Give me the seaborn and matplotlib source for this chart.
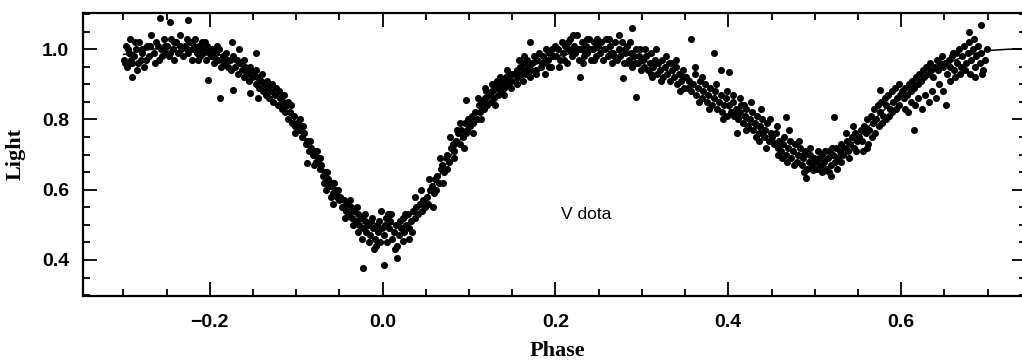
import matplotlib
matplotlib.use("Agg")
import matplotlib.pyplot as plt
from matplotlib.ticker import MultipleLocator
import seaborn as sns
import pandas as pd

# ---- fitted light curve ----
model_phase = [-0.300, -0.275, -0.250, -0.225, -0.200, -0.175, -0.150, -0.125,
               -0.100, -0.075, -0.050, -0.025, 0.000, 0.025, 0.050, 0.075, 0.100, 0.125,
               0.150, 0.175, 0.200, 0.225, 0.250, 0.275, 0.300, 0.325, 0.350, 0.375,
               0.400, 0.425, 0.450, 0.475, 0.500, 0.525, 0.550, 0.575, 0.600, 0.625,
               0.650, 0.675, 0.700, 0.725, 0.745]
model_light = [0.985, 0.997, 1.005, 1.005, 0.995, 0.970, 0.930, 0.875,
               0.790, 0.685, 0.585, 0.515, 0.495, 0.510, 0.575, 0.680, 0.785, 0.865,
               0.920, 0.955, 0.978, 0.992, 0.997, 0.990, 0.972, 0.945, 0.912, 0.873,
               0.832, 0.790, 0.745, 0.708, 0.686, 0.695, 0.745, 0.815, 0.872, 0.918,
               0.955, 0.982, 0.996, 1.000, 1.000]

# ---- observed V data, (phase, light) pairs by phase segment ----
seg_a = [(-0.299,0.97),(-0.297,1.01),(-0.296,0.95),(-0.294,0.99),(-0.292,1.03),(-0.290,0.96),(-0.288,0.98),(-0.286,1.00),(-0.284,0.94),(-0.282,1.02),(-0.280,0.97),(-0.278,0.99),(-0.276,0.95),(-0.273,1.01),(-0.270,0.98),(-0.268,1.04),(-0.265,0.99),(-0.262,1.02),(-0.259,0.97),(-0.256,1.00),(-0.253,1.03),(-0.251,0.99),(-0.298,0.96),(-0.295,1.00),(-0.291,0.97),(-0.287,1.02),(-0.283,0.96),(-0.279,1.00),(-0.274,0.97),(-0.269,1.01),(-0.264,0.96),(-0.260,1.01),(-0.255,0.98),(-0.252,1.01),(-0.290,0.92),(-0.258,1.088),(-0.246,1.077)]
seg_b = [(-0.249,1.01),(-0.247,0.98),(-0.245,1.03),(-0.243,1.00),(-0.241,0.97),(-0.239,1.02),(-0.237,0.99),(-0.235,1.04),(-0.233,1.00),(-0.231,0.98),(-0.229,1.01),(-0.227,1.03),(-0.225,0.99),(-0.223,1.02),(-0.221,0.97),(-0.219,1.00),(-0.217,1.03),(-0.215,0.99),(-0.213,1.01),(-0.211,0.98),(-0.209,1.02),(-0.207,1.00),(-0.205,0.97),(-0.203,1.01),(-0.201,0.99),(-0.212,1.00),(-0.208,0.99),(-0.204,1.00),(-0.206,1.02),(-0.214,0.97),(-0.218,1.01),(-0.226,1.00),(-0.234,1.01),(-0.242,1.02),(-0.246,0.99),(-0.225,1.083),(-0.202,0.912)]
seg_c = [(-0.199,0.98),(-0.197,1.00),(-0.195,0.96),(-0.193,0.99),(-0.191,0.97),(-0.189,1.00),(-0.187,0.95),(-0.185,0.98),(-0.183,0.96),(-0.181,0.99),(-0.179,0.95),(-0.177,0.97),(-0.175,0.94),(-0.173,0.98),(-0.171,0.95),(-0.169,0.97),(-0.167,0.93),(-0.165,0.96),(-0.163,0.94),(-0.161,0.92),(-0.159,0.95),(-0.157,0.93),(-0.155,0.91),(-0.153,0.94),(-0.151,0.92),(-0.196,0.98),(-0.192,1.01),(-0.186,0.97),(-0.180,0.97),(-0.174,1.02),(-0.166,1.00),(-0.160,0.97),(-0.154,0.95),(-0.147,0.99),(-0.188,0.86),(-0.173,0.883)]
seg_d = [(-0.149,0.93),(-0.147,0.90),(-0.145,0.92),(-0.143,0.89),(-0.141,0.91),(-0.139,0.88),(-0.137,0.90),(-0.135,0.87),(-0.133,0.89),(-0.131,0.86),(-0.129,0.88),(-0.127,0.85),(-0.125,0.87),(-0.123,0.89),(-0.121,0.84),(-0.119,0.86),(-0.117,0.83),(-0.115,0.85),(-0.113,0.82),(-0.111,0.84),(-0.109,0.80),(-0.107,0.82),(-0.105,0.79),(-0.103,0.81),(-0.101,0.78),(-0.146,0.94),(-0.140,0.93),(-0.134,0.91),(-0.128,0.90),(-0.120,0.88),(-0.114,0.87),(-0.110,0.85),(-0.106,0.84),(-0.102,0.76),(-0.154,0.875),(-0.144,0.86)]
seg_e = [(-0.099,0.79),(-0.097,0.77),(-0.095,0.78),(-0.093,0.75),(-0.091,0.76),(-0.089,0.73),(-0.087,0.74),(-0.085,0.71),(-0.083,0.72),(-0.081,0.70),(-0.079,0.71),(-0.077,0.68),(-0.075,0.69),(-0.073,0.66),(-0.071,0.67),(-0.069,0.64),(-0.067,0.65),(-0.065,0.62),(-0.063,0.63),(-0.061,0.61),(-0.059,0.62),(-0.057,0.59),(-0.055,0.60),(-0.053,0.58),(-0.051,0.57),(-0.096,0.80),(-0.092,0.78),(-0.088,0.675),(-0.084,0.74),(-0.080,0.67),(-0.076,0.71),(-0.072,0.69),(-0.068,0.62),(-0.064,0.65),(-0.060,0.58),(-0.056,0.62),(-0.052,0.60),(-0.066,0.60),(-0.058,0.56)]
seg_f = [(-0.049,0.58),(-0.047,0.55),(-0.045,0.57),(-0.043,0.54),(-0.041,0.56),(-0.039,0.53),(-0.037,0.55),(-0.035,0.52),(-0.033,0.54),(-0.031,0.51),(-0.029,0.53),(-0.027,0.50),(-0.025,0.52),(-0.023,0.49),(-0.021,0.51),(-0.019,0.48),(-0.017,0.50),(-0.015,0.47),(-0.013,0.51),(-0.011,0.49),(-0.009,0.46),(-0.007,0.50),(-0.005,0.48),(-0.003,0.45),(-0.001,0.49),(-0.044,0.52),(-0.038,0.57),(-0.034,0.50),(-0.028,0.48),(-0.024,0.46),(-0.020,0.53),(-0.016,0.45),(-0.012,0.52),(-0.008,0.44),(-0.004,0.51),(-0.023,0.377),(-0.010,0.43),(-0.030,0.55),(-0.002,0.54)]
seg_g = [(0.001,0.47),(0.003,0.50),(0.005,0.45),(0.007,0.49),(0.009,0.51),(0.011,0.46),(0.013,0.48),(0.015,0.50),(0.017,0.44),(0.019,0.47),(0.021,0.49),(0.023,0.52),(0.025,0.48),(0.027,0.50),(0.029,0.53),(0.031,0.49),(0.033,0.51),(0.035,0.54),(0.037,0.52),(0.039,0.55),(0.041,0.53),(0.043,0.56),(0.045,0.54),(0.047,0.57),(0.049,0.55),(0.002,0.385),(0.017,0.405),(0.004,0.52),(0.010,0.53),(0.014,0.43),(0.020,0.51),(0.024,0.455),(0.030,0.46),(0.034,0.48),(0.038,0.58),(0.044,0.60),(0.026,0.53),(0.006,0.53)]
seg_h = [(0.051,0.58),(0.053,0.56),(0.055,0.60),(0.057,0.61),(0.059,0.59),(0.061,0.63),(0.063,0.64),(0.065,0.62),(0.067,0.66),(0.069,0.67),(0.071,0.65),(0.073,0.69),(0.075,0.70),(0.077,0.68),(0.079,0.72),(0.081,0.73),(0.083,0.71),(0.085,0.74),(0.087,0.76),(0.089,0.73),(0.091,0.77),(0.093,0.75),(0.095,0.79),(0.097,0.76),(0.099,0.80),(0.054,0.63),(0.058,0.55),(0.062,0.60),(0.066,0.69),(0.070,0.62),(0.074,0.66),(0.078,0.75),(0.082,0.69),(0.086,0.77),(0.090,0.79),(0.094,0.72),(0.097,0.855),(0.098,0.77)]
seg_i = [(0.101,0.78),(0.103,0.81),(0.105,0.79),(0.107,0.82),(0.109,0.80),(0.111,0.84),(0.113,0.82),(0.115,0.85),(0.117,0.83),(0.119,0.86),(0.121,0.84),(0.123,0.87),(0.125,0.85),(0.127,0.88),(0.129,0.86),(0.131,0.89),(0.133,0.87),(0.135,0.90),(0.137,0.88),(0.139,0.91),(0.141,0.89),(0.143,0.92),(0.145,0.90),(0.147,0.93),(0.149,0.91),(0.104,0.76),(0.110,0.86),(0.114,0.80),(0.120,0.88),(0.126,0.90),(0.130,0.84),(0.136,0.92),(0.140,0.87),(0.144,0.94),(0.148,0.89),(0.132,0.91),(0.118,0.89)]
seg_j = [(0.151,0.93),(0.153,0.91),(0.155,0.94),(0.157,0.92),(0.159,0.95),(0.161,0.93),(0.163,0.96),(0.165,0.94),(0.167,0.97),(0.169,0.95),(0.171,0.92),(0.173,0.96),(0.175,0.98),(0.177,0.94),(0.179,0.97),(0.181,0.99),(0.183,0.95),(0.185,0.98),(0.187,0.96),(0.189,1.00),(0.191,0.97),(0.193,0.99),(0.195,0.95),(0.197,0.98),(0.199,1.01),(0.170,1.02),(0.156,0.90),(0.162,0.91),(0.166,0.93),(0.172,0.94),(0.178,0.93),(0.184,0.96),(0.188,0.93),(0.192,0.95),(0.196,1.00),(0.158,0.97),(0.164,0.98)]
seg_k = [(0.201,0.98),(0.203,1.00),(0.205,0.97),(0.207,1.02),(0.209,0.99),(0.211,1.01),(0.213,0.96),(0.215,1.00),(0.217,1.03),(0.219,0.98),(0.221,1.01),(0.223,0.99),(0.225,1.04),(0.227,0.97),(0.229,1.00),(0.231,1.02),(0.233,0.98),(0.235,1.01),(0.237,0.99),(0.239,1.03),(0.241,0.97),(0.243,1.00),(0.245,1.02),(0.247,0.98),(0.249,1.01),(0.228,0.92),(0.204,0.95),(0.210,0.97),(0.214,1.02),(0.220,1.04),(0.226,1.00),(0.232,0.96),(0.236,1.03),(0.240,1.00),(0.244,0.97),(0.248,1.03),(0.218,1.00),(0.234,0.99)]
seg_l = [(0.251,0.99),(0.253,1.02),(0.255,0.97),(0.257,1.00),(0.259,1.03),(0.261,0.98),(0.263,1.01),(0.265,0.96),(0.267,0.99),(0.269,1.02),(0.271,0.97),(0.273,1.00),(0.275,0.98),(0.277,1.02),(0.279,0.96),(0.281,0.99),(0.283,1.01),(0.285,0.97),(0.287,0.99),(0.289,0.95),(0.291,0.98),(0.293,1.00),(0.295,0.96),(0.297,0.98),(0.299,0.94),(0.278,0.917),(0.293,0.863),(0.289,1.06),(0.256,1.00),(0.262,1.03),(0.268,0.98),(0.274,1.04),(0.280,1.00),(0.286,1.02),(0.292,0.96),(0.298,1.00),(0.264,0.99),(0.284,0.96)]
seg_m = [(0.301,0.97),(0.303,0.95),(0.305,0.98),(0.307,0.94),(0.309,0.96),(0.311,0.99),(0.313,0.95),(0.315,0.97),(0.317,0.93),(0.319,0.96),(0.321,0.94),(0.323,0.97),(0.325,0.92),(0.327,0.95),(0.329,0.93),(0.331,0.96),(0.333,0.91),(0.335,0.94),(0.337,0.92),(0.339,0.95),(0.341,0.90),(0.343,0.93),(0.345,0.91),(0.347,0.94),(0.349,0.89),(0.304,1.00),(0.310,0.93),(0.316,1.00),(0.322,0.91),(0.328,0.98),(0.334,0.96),(0.340,0.97),(0.344,0.88),(0.348,0.92),(0.312,0.92)]
seg_n = [(0.351,0.92),(0.353,0.89),(0.355,0.91),(0.357,0.88),(0.359,0.90),(0.361,0.93),(0.363,0.87),(0.365,0.89),(0.367,0.91),(0.369,0.86),(0.371,0.88),(0.373,0.90),(0.375,0.85),(0.377,0.87),(0.379,0.89),(0.381,0.84),(0.383,0.86),(0.385,0.88),(0.387,0.83),(0.389,0.85),(0.391,0.87),(0.393,0.82),(0.395,0.84),(0.397,0.86),(0.399,0.81),(0.357,1.03),(0.384,0.99),(0.392,0.94),(0.362,0.95),(0.370,0.92),(0.378,0.83),(0.386,0.90),(0.394,0.80),(0.398,0.88),(0.366,0.85)]
seg_o = [(0.401,0.84),(0.403,0.82),(0.405,0.85),(0.407,0.81),(0.409,0.83),(0.411,0.80),(0.413,0.82),(0.415,0.84),(0.417,0.79),(0.419,0.81),(0.421,0.83),(0.423,0.78),(0.425,0.80),(0.427,0.82),(0.429,0.77),(0.431,0.79),(0.433,0.81),(0.435,0.76),(0.437,0.78),(0.439,0.80),(0.441,0.75),(0.443,0.77),(0.445,0.79),(0.447,0.74),(0.449,0.76),(0.401,0.935),(0.410,0.76),(0.406,0.87),(0.414,0.86),(0.420,0.77),(0.426,0.85),(0.432,0.75),(0.438,0.83),(0.444,0.72),(0.448,0.80),(0.418,0.84),(0.436,0.74)]
seg_p = [(0.451,0.75),(0.453,0.73),(0.455,0.76),(0.457,0.72),(0.459,0.74),(0.461,0.71),(0.463,0.73),(0.465,0.75),(0.467,0.70),(0.469,0.72),(0.471,0.74),(0.473,0.69),(0.475,0.71),(0.477,0.73),(0.479,0.68),(0.481,0.70),(0.483,0.72),(0.485,0.67),(0.487,0.69),(0.489,0.71),(0.491,0.66),(0.493,0.68),(0.495,0.70),(0.497,0.67),(0.499,0.69),(0.467,0.807),(0.468,0.68),(0.490,0.633),(0.456,0.78),(0.462,0.69),(0.470,0.77),(0.476,0.67),(0.482,0.74),(0.488,0.65),(0.494,0.72),(0.498,0.655),(0.458,0.70),(0.486,0.70)]
seg_q = [(0.501,0.68),(0.503,0.66),(0.505,0.69),(0.507,0.67),(0.509,0.70),(0.511,0.68),(0.513,0.66),(0.515,0.69),(0.517,0.71),(0.519,0.67),(0.521,0.70),(0.523,0.68),(0.525,0.72),(0.527,0.69),(0.529,0.71),(0.531,0.73),(0.533,0.70),(0.535,0.72),(0.537,0.74),(0.539,0.71),(0.541,0.73),(0.543,0.75),(0.545,0.72),(0.547,0.76),(0.549,0.74),(0.519,0.64),(0.522,0.807),(0.504,0.71),(0.508,0.65),(0.512,0.71),(0.516,0.65),(0.520,0.72),(0.526,0.66),(0.530,0.68),(0.536,0.76),(0.540,0.69),(0.544,0.78),(0.548,0.71)]
seg_r = [(0.551,0.75),(0.553,0.77),(0.555,0.74),(0.557,0.78),(0.559,0.76),(0.561,0.80),(0.563,0.77),(0.565,0.81),(0.567,0.79),(0.569,0.83),(0.571,0.80),(0.573,0.84),(0.575,0.82),(0.577,0.85),(0.579,0.81),(0.581,0.86),(0.583,0.84),(0.585,0.87),(0.587,0.83),(0.589,0.88),(0.591,0.85),(0.593,0.89),(0.595,0.86),(0.597,0.90),(0.599,0.87),(0.575,0.883),(0.556,0.71),(0.562,0.73),(0.566,0.75),(0.570,0.76),(0.574,0.78),(0.578,0.79),(0.582,0.80),(0.586,0.81),(0.590,0.82),(0.594,0.83),(0.598,0.84),(0.560,0.72)]
seg_s = [(0.601,0.88),(0.603,0.86),(0.605,0.89),(0.607,0.87),(0.609,0.90),(0.611,0.88),(0.613,0.91),(0.615,0.89),(0.617,0.92),(0.619,0.90),(0.621,0.93),(0.623,0.91),(0.625,0.94),(0.627,0.92),(0.629,0.95),(0.631,0.93),(0.633,0.96),(0.635,0.94),(0.637,0.92),(0.639,0.95),(0.641,0.97),(0.643,0.94),(0.645,0.96),(0.647,0.98),(0.649,0.95),(0.604,0.83),(0.608,0.82),(0.612,0.85),(0.615,0.77),(0.616,0.84),(0.620,0.86),(0.624,0.83),(0.628,0.87),(0.632,0.85),(0.636,0.88),(0.640,0.86),(0.644,0.90),(0.648,0.88),(0.652,0.84)]
seg_t = [(0.651,0.96),(0.653,0.93),(0.655,0.97),(0.657,0.95),(0.659,0.98),(0.661,0.94),(0.663,0.99),(0.665,0.96),(0.667,1.00),(0.669,0.95),(0.671,0.98),(0.673,1.01),(0.675,0.96),(0.677,0.99),(0.679,1.02),(0.681,0.97),(0.683,1.00),(0.685,0.95),(0.687,0.98),(0.689,1.01),(0.691,0.96),(0.693,0.99),(0.695,0.94),(0.697,0.97),(0.699,1.00),(0.679,1.05),(0.692,1.07),(0.656,0.91),(0.662,0.92),(0.668,0.93),(0.674,0.94),(0.680,0.93),(0.686,0.92),(0.694,0.93),(0.660,0.99),(0.684,1.03)]

segments = [seg_a, seg_b, seg_c, seg_d, seg_e, seg_f, seg_g, seg_h, seg_i, seg_j,
            seg_k, seg_l, seg_m, seg_n, seg_o, seg_p, seg_q, seg_r, seg_s, seg_t]

x_ticks = [-0.2, 0.0, 0.2, 0.4, 0.6]
y_ticks = [0.4, 0.6, 0.8, 1.0]
x_label = "Phase"
y_label = "Light"
note = "V dota"

obs = pd.DataFrame([pt for seg in segments for pt in seg], columns=["phase", "light"])
model = pd.DataFrame({"phase": model_phase, "light": model_light})

sns.set_theme(style="ticks")
plt.rcParams["font.family"] = ["Liberation Sans", "DejaVu Sans"]
plt.rcParams["text.color"] = "black"
plt.rcParams["axes.labelcolor"] = "black"

fig = plt.figure(figsize=(10.22, 3.61), dpi=100)
ax = fig.add_axes([0.0812, 0.180, 0.9227, 0.785])

sns.scatterplot(data=obs, x="phase", y="light", ax=ax, color="black",
                s=26, linewidth=0, legend=False, zorder=2)
sns.lineplot(data=model, x="phase", y="light", ax=ax, color="black",
             linewidth=1.1, estimator=None, sort=True, zorder=3)

ax.set_xlim(-0.3468, 0.7445)
ax.set_ylim(0.2973, 1.104)
ax.set_xticks(x_ticks)
ax.set_yticks(y_ticks)
ax.xaxis.set_minor_locator(MultipleLocator(0.05))
ax.yaxis.set_minor_locator(MultipleLocator(0.05))
ax.set_xticklabels([f"{v:.1f}".replace("-", "\u2212") for v in x_ticks], fontweight="bold")
ax.set_yticklabels([f"{v:.1f}" for v in y_ticks], fontweight="bold")

ax.tick_params(which="both", direction="in", top=True, right=True,
               width=1.3, colors="black", labelcolor="black")
ax.tick_params(which="major", length=10, labelsize=14)
ax.tick_params(axis="x", which="major", pad=13)
ax.tick_params(axis="y", which="major", pad=10)
ax.tick_params(which="minor", length=5)
for sp in ax.spines.values():
    sp.set_linewidth(1.6)
    sp.set_color("black")

ax.set_xlabel(x_label, fontsize=16, fontweight="bold", family="Liberation Serif", color="black")
ax.set_ylabel(y_label, fontsize=16, fontweight="bold", family="Liberation Serif", color="black")
ax.xaxis.set_label_coords(0.503, -0.158)
ax.yaxis.set_label_coords(-0.0605, 0.50)

ax.text(0.236, 0.528, note, fontsize=12.5, ha="center", va="center", color="black")

fig.savefig("out.png", dpi=100, facecolor="white")
